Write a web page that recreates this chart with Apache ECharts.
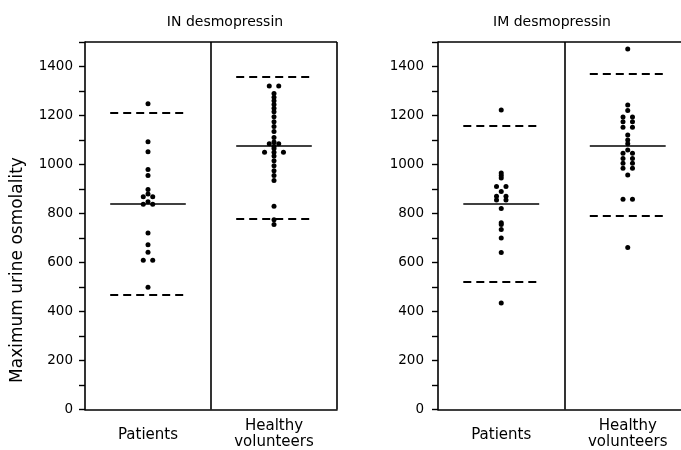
<!DOCTYPE html>
<html>
<head>
<meta charset="utf-8">
<script src="https://cdn.jsdelivr.net/npm/echarts@6/dist/echarts.min.js"></script>
<style>html,body{margin:0;padding:0;background:#fff}#c{width:681px;height:450px}</style>
</head>
<body>
<div id="c"></div>
<script>
const categories = ['Patients', 'Healthy\nvolunteers'];
const panelTitles = ['IN desmopressin', 'IM desmopressin'];
const yAxisName = 'Maximum urine osmolality';
const yMin = 0, yMax = 1500, yStep = 100;

// IN desmopressin
const inPatients = [1248, 1093, 1052, 980, 955, 898, 880, 868, 868, 848, 838, 838, 720, 672, 642, 609, 609, 499];
const inHealthy = [1320, 1320, 1290, 1275, 1260, 1245, 1230, 1215, 1195, 1175, 1155, 1135, 1110, 1092, 1085, 1085, 1075, 1065, 1050, 1050, 1050, 1035, 1015, 995, 975, 955, 935, 830, 775, 755];
// IM desmopressin
const imPatients = [1222, 965, 955, 945, 910, 910, 890, 870, 870, 855, 855, 820, 762, 755, 735, 700, 641, 435];
const imHealthy = [1471, 1243, 1220, 1194, 1194, 1175, 1175, 1152, 1152, 1120, 1100, 1085, 1059, 1046, 1046, 1025, 1025, 1005, 1005, 985, 985, 957, 858, 858, 661];

// [upper dashed, mean (solid), lower dashed]
const inPatientsLines = [1210, 840, 470];
const inHealthyLines = [1360, 1075, 778];
const imPatientsLines = [1160, 838, 520];
const imHealthyLines = [1370, 1078, 792];

const FONT = 'DejaVu Sans';
const BLACK = '#000';

function swarm(vals, center) {
  const counts = {}; vals.forEach(v => counts[v] = (counts[v] || 0) + 1);
  const seen = {};
  return vals.map(v => {
    const n = counts[v];
    const i = (seen[v] = (seen[v] || 0) + 1) - 1;
    return [center + (i - (n - 1) / 2) * 0.075, v];
  });
}

function groupLines(lines, center) {
  const a = center - 0.3, b = center + 0.3;
  return [
    { seg: [[a, lines[0]], [b, lines[0]]], dashed: true },
    { seg: [[a, lines[1]], [b, lines[1]]], dashed: false },
    { seg: [[a, lines[2]], [b, lines[2]]], dashed: true }
  ];
}

// right panel is cut by the picture edge: it shows only part of the second column
const panelXMax = [2, 1.921];
const grids = [
  { left: 85, top: 42, width: 252, height: 368 },
  { left: 438, top: 42, width: 243, height: 368 }
];

const options = {
  animation: false,
  backgroundColor: '#fff',
  grid: grids.map(g => Object.assign({ show: false }, g)),
  title: [
    { text: panelTitles[0], left: 220, top: 10, textAlign: 'center', textStyle: { fontFamily: FONT, fontSize: 14, fontWeight: 'normal', color: BLACK } },
    { text: panelTitles[1], left: 547, top: 10, textAlign: 'center', textStyle: { fontFamily: FONT, fontSize: 14, fontWeight: 'normal', color: BLACK } }
  ],
  graphic: [{
    type: 'text', x: 18, y: 270, rotation: Math.PI / 2,
    style: { text: yAxisName, font: '17px "DejaVu Sans"', fill: BLACK, align: 'center', verticalAlign: 'middle' }
  }],
  xAxis: [0, 1].map(i => ({
    gridIndex: i, type: 'value', min: 0, max: panelXMax[i], interval: 0.5,
    splitLine: { show: false },
    axisLine: { show: true, onZero: false, lineStyle: { color: BLACK, width: 1.6 } },
    axisTick: { show: false },
    axisLabel: {
      margin: 9, showMaxLabel: false,
      formatter: v => v === 0.5 ? '{p|' + categories[0] + '}' : (v === 1.5 ? categories[1].split('\n').map(s => '{h|' + s + '}').join('\n') : ''),
      rich: {
        p: { fontFamily: FONT, fontSize: 15, color: BLACK, lineHeight: 34 },
        h: { fontFamily: FONT, fontSize: 15, color: BLACK, lineHeight: 16 }
      }
    }
  })),
  yAxis: [0, 1].map(i => ({
    gridIndex: i, type: 'value', min: yMin, max: yMax, interval: yStep,
    splitLine: { show: false },
    axisLine: { show: true, lineStyle: { color: BLACK, width: 1.6 } },
    axisTick: { show: true, length: 6, lineStyle: { color: BLACK, width: 1.4 } },
    axisLabel: {
      margin: i === 0 ? 12 : 14, fontFamily: FONT, fontSize: 13.5, color: BLACK,
      formatter: v => (v % 200 === 0 && v < yMax) ? String(v) : ''
    }
  }))
};

const panels = [
  { p: inPatients, h: inHealthy, pl: inPatientsLines, hl: inHealthyLines },
  { p: imPatients, h: imHealthy, pl: imPatientsLines, hl: imHealthyLines }
];

const solid = { type: 'solid', width: 1.6, color: BLACK };
options.series = [];
panels.forEach((pan, i) => {
  const lines = groupLines(pan.pl, 0.5).concat(groupLines(pan.hl, 1.5));
  const mlData = lines.map(l => [
    { coord: l.seg[0], lineStyle: { type: l.dashed ? [8, 5] : 'solid', width: l.dashed ? 2 : 1.6, color: BLACK } },
    { coord: l.seg[1] }
  ]);
  // divider between the two groups
  mlData.push([{ coord: [1, yMin], lineStyle: solid }, { coord: [1, yMax] }]);
  // top frame line
  mlData.push([{ coord: [0, yMax], lineStyle: solid }, { coord: [panelXMax[i], yMax] }]);
  // right frame line (only the left panel shows it)
  if (i === 0) mlData.push([{ coord: [2, yMin], lineStyle: solid }, { coord: [2, yMax] }]);
  options.series.push({
    type: 'scatter', xAxisIndex: i, yAxisIndex: i,
    data: swarm(pan.p, 0.5).concat(swarm(pan.h, 1.5)),
    symbol: 'circle', symbolSize: 5,
    itemStyle: { color: BLACK, opacity: 1 },
    silent: true,
    markLine: { silent: true, symbol: ['none', 'none'], label: { show: false }, data: mlData }
  });
});

const chart = echarts.init(document.getElementById('c'), null, { renderer: 'canvas' });
chart.setOption(options);
</script>
</body>
</html>
